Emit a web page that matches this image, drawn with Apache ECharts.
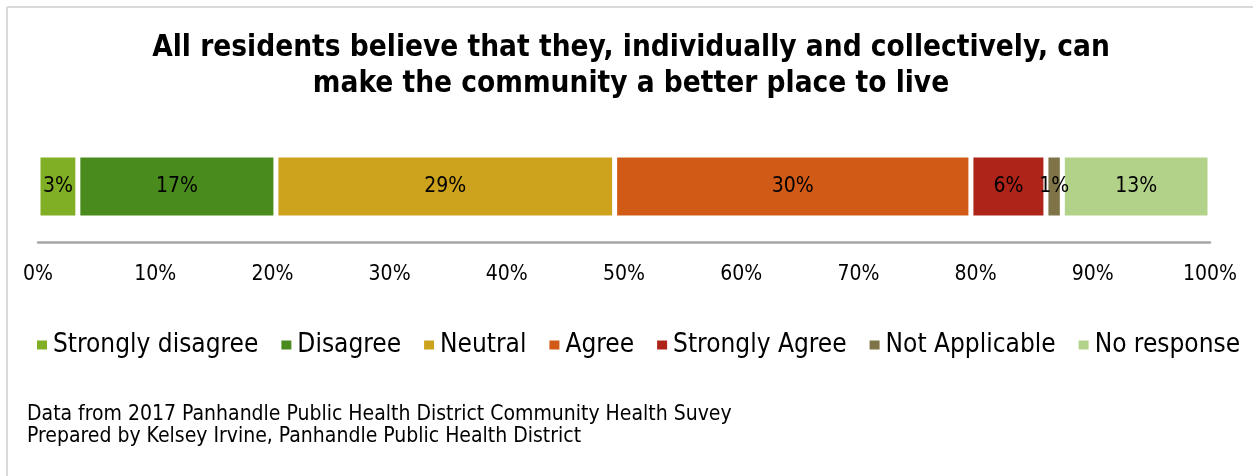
<!DOCTYPE html>
<html>
<head>
<meta charset="utf-8">
<script src="https://cdn.jsdelivr.net/npm/echarts@6/dist/echarts.min.js"></script>
<style>
  html, body { margin: 0; padding: 0; background: #fff; }
  #chart { width: 1253px; height: 476px; }
</style>
</head>
<body>
<div id="chart"></div>
<script>
// Survey response shares (percent of respondents)
const categories = ['All residents'];
const seriesNames = ['Strongly disagree', 'Disagree', 'Neutral', 'Agree', 'Strongly Agree', 'Not Applicable', 'No response'];
const seriesValues = [3.4, 16.9, 28.9, 30.4, 6.4, 1.4, 12.6];
const seriesColors = ['#80AE25', '#4A8B1E', '#CDA21C', '#D05A16', '#AE2419', '#7F7447', '#B2D28A'];
const tickValues = [0, 10, 20, 30, 40, 50, 60, 70, 80, 90, 100];

const titleLines = ['All residents believe that they, individually and collectively, can', 'make the community a better place to live'];
const footerLines = ['Data from 2017 Panhandle Public Health District Community Health Suvey', 'Prepared by Kelsey Irvine, Panhandle Public Health District'];

const condensed = '"DejaVu Sans Condensed", "DejaVu Sans", sans-serif';
const numFont = condensed;

const chart = echarts.init(document.getElementById('chart'), null, { renderer: 'canvas' });

const series = seriesNames.map((name, i) => ({
  name: name,
  type: 'bar',
  stack: 'total',
  barWidth: 63,
  data: [seriesValues[i]],
  itemStyle: { color: seriesColors[i], borderColor: '#ffffff', borderWidth: 2.5 },
  label: {
    show: true,
    position: 'inside',
    color: '#000',
    fontFamily: numFont,
    fontSize: 21,
    formatter: p => Math.round(p.value) + '%'
  },
  emphasis: { disabled: true }
}));

chart.setOption({
  animation: false,
  backgroundColor: '#ffffff',
  grid: { left: 38, right: 43, top: 131, bottom: 234, containLabel: false },
  xAxis: {
    type: 'value',
    min: 0,
    max: 100,
    interval: 10,
    axisLine: { show: true, lineStyle: { color: '#A6A6A6', width: 2.5 } },
    axisTick: { show: false },
    splitLine: { show: false },
    axisLabel: {
      color: '#000',
      fontFamily: numFont,
      fontSize: 21,
      margin: 22,
      formatter: v => (tickValues.includes(v) ? v + '%' : '')
    }
  },
  yAxis: {
    type: 'category',
    data: categories,
    show: false
  },
  legend: {
    data: seriesNames,
    left: 30,
    top: 327,
    width: 1223,
    itemWidth: 12,
    itemHeight: 11,
    itemGap: 21,
    icon: 'rect',
    selectedMode: false,
    textStyle: { color: '#000', fontFamily: condensed, fontSize: 26 }
  },
  graphic: [
    // light frame along the top and left edges
    { type: 'line', shape: { x1: 7, y1: 7, x2: 1253, y2: 7 }, style: { stroke: '#D9D9D9', lineWidth: 2 }, silent: true },
    { type: 'line', shape: { x1: 7, y1: 7, x2: 7, y2: 476 }, style: { stroke: '#D9D9D9', lineWidth: 2 }, silent: true },
    {
      type: 'text', x: 631, y: 48,
      style: { text: titleLines[0], fill: '#000', font: 'bold 29.5px ' + condensed, textAlign: 'center', textVerticalAlign: 'middle' }
    },
    {
      type: 'text', x: 631, y: 84,
      style: { text: titleLines[1], fill: '#000', font: 'bold 29.5px ' + condensed, textAlign: 'center', textVerticalAlign: 'middle' }
    },
    {
      type: 'text', x: 27, y: 415,
      style: { text: footerLines[0], fill: '#000', font: '21px ' + condensed, textAlign: 'left', textVerticalAlign: 'middle' }
    },
    {
      type: 'text', x: 27, y: 437,
      style: { text: footerLines[1], fill: '#000', font: '21px ' + condensed, textAlign: 'left', textVerticalAlign: 'middle' }
    }
  ],
  series: series
});
</script>
</body>
</html>
